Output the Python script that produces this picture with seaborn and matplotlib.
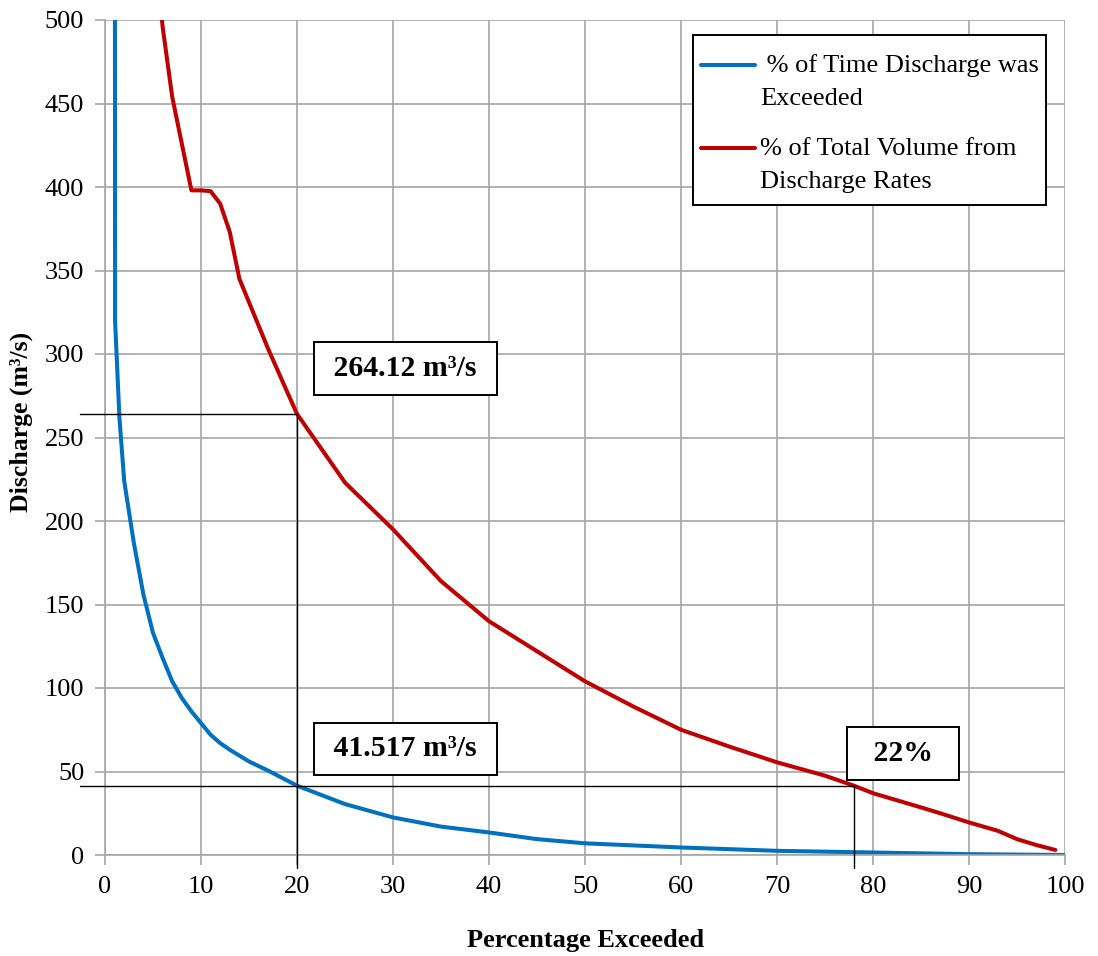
import matplotlib
matplotlib.use("Agg")
import matplotlib.pyplot as plt
import matplotlib.patches as mpatches
from matplotlib.legend_handler import HandlerLine2D
from matplotlib.lines import Line2D
import seaborn as sns
import pandas as pd

# ---- data ----
time_x = [1.0, 1.05, 1.5, 2, 3, 4, 5, 6, 7, 8, 9, 10, 11, 12, 13, 15, 17, 20,
          25, 30, 35, 40, 45, 50, 60, 70, 80, 88, 90, 100]
time_y = [1000, 320, 262, 224, 187, 156, 133, 118, 104, 94, 86, 79, 72, 67, 63,
          56, 50.5, 41.517, 30.5, 22.5, 17, 13.5, 9.5, 7, 4.5, 2.5, 1.5, 0.7, 0.5, 0]

vol_x = [5, 6, 7, 8, 9, 10, 11, 12, 13, 14, 15, 16, 17, 18, 19, 20, 25, 30, 35,
         40, 45, 50, 55, 60, 65, 70, 75, 78, 80, 85, 87, 90, 93, 94, 95, 97, 99]
vol_y = [560, 496, 454, 426, 398, 398, 397.5, 390, 373, 345, 331, 317, 303, 290,
         277, 264.12, 223, 195, 164, 140, 122, 104, 89, 75, 65, 55.5, 47.5, 41.517,
         37, 28.5, 25, 19.5, 14.5, 12, 9.5, 6, 3]

labels = [" % of Time Discharge was\nExceeded", "% of Total Volume from\nDischarge Rates"]
x_ticks = [0, 10, 20, 30, 40, 50, 60, 70, 80, 90, 100]
y_ticks = [0, 50, 100, 150, 200, 250, 300, 350, 400, 450, 500]
ann_q20 = 264.12
ann_q78 = 41.517
ann_p20 = 20
ann_p78 = 78

sns.set_style("white")
plt.rcParams['font.family'] = ['Liberation Serif', 'DejaVu Serif']
plt.rcParams['text.color'] = 'black'
plt.rcParams['axes.labelcolor'] = 'black'

fig = plt.figure(figsize=(10.98, 9.56), dpi=100)
ax = fig.add_axes([105/1098, 1 - 855/956, 960/1098, 835/956])

df1 = pd.DataFrame({"x": time_x, "y": time_y})
df2 = pd.DataFrame({"x": vol_x, "y": vol_y})
sns.lineplot(data=df1, x="x", y="y", ax=ax, color="#0070C0", lw=2.9,
             label=labels[0], sort=False, solid_capstyle="round")
sns.lineplot(data=df2, x="x", y="y", ax=ax, color="#C00000", lw=2.9,
             label=labels[1], sort=False, solid_capstyle="round")

ax.set_xlim(0, 100)
ax.set_ylim(0, 500)
ax.set_xticks(x_ticks)
ax.set_yticks(y_ticks)
ax.grid(True, color="#A6A6A6", lw=1.2)
ax.set_axisbelow(True)
for s in ["top", "right"]:
    ax.spines[s].set_visible(False)
for s in ["left", "bottom"]:
    ax.spines[s].set_color("#A6A6A6")
    ax.spines[s].set_linewidth(1.2)
ax.tick_params(axis="both", which="both", direction="out", length=7, width=1.2,
               color="#A6A6A6", labelsize=19, labelcolor="black", pad=8)
ax.tick_params(axis="x", bottom=True)
ax.tick_params(axis="y", left=True)

ax.set_xlabel("Percentage Exceeded", fontsize=19, fontweight="bold")
ax.set_ylabel("Discharge (m³/s)", fontsize=18.5, fontweight="bold")
ax.xaxis.set_label_coords(0.501, -0.089)
ax.yaxis.set_label_coords(-0.075, 0.519)

# reference lines
ax.plot([-2.6, ann_p20], [ann_q20, ann_q20], color="black", lw=1.0, clip_on=False, zorder=3)
ax.plot([ann_p20, ann_p20], [-7.5, ann_q20], color="black", lw=1.0, clip_on=False, zorder=3)
ax.plot([-2.6, ann_p78], [ann_q78, ann_q78], color="black", lw=1.0, clip_on=False, zorder=3)
ax.plot([ann_p78, ann_p78], [-7.5, ann_q78], color="black", lw=1.0, clip_on=False, zorder=3)

box = dict(boxstyle="square,pad=0.42", fc="white", ec="black", lw=1.4)
ax.text(31.3, 291.3, " 264.12 m³/s ", fontsize=21.5, fontweight="bold", ha="center",
        va="center", bbox=box, zorder=5)
ax.text(31.3, 63.5, " 41.517 m³/s ", fontsize=21.5, fontweight="bold", ha="center",
        va="center", bbox=box, zorder=5)
ax.text(83.1, 60.8, " \u200922%\u2009 ", fontsize=21.5, fontweight="bold", ha="center",
        va="center", bbox=box, zorder=5)


class TopLine(HandlerLine2D):
    def create_artists(self, legend, orig_handle, xdescent, ydescent, width,
                       height, fontsize, trans):
        arts = super().create_artists(legend, orig_handle, xdescent, ydescent,
                                      width, height, fontsize, trans)
        for a in arts:
            if isinstance(a, Line2D):
                a.set_ydata([y + 11.9 for y in a.get_ydata()])
        return arts


# legend frame
frame = mpatches.Rectangle((588/960, 650/835), 353/960, 170/835, transform=ax.transAxes,
                           fc="white", ec="black", lw=1.4, zorder=5, clip_on=False)
ax.add_patch(frame)

handles, labs = ax.get_legend_handles_labels()
leg = ax.legend(handles, labs, loc="upper left", bbox_to_anchor=(596/960, 801/835),
                fontsize=19, frameon=False, handlelength=2.05, handletextpad=0.2,
                labelspacing=1.05, borderpad=0, borderaxespad=0,
                handler_map={Line2D: TopLine()})
leg.set_zorder(6)
for t in leg.get_texts():
    t.set_linespacing(1.65)
    t.set_color("black")

fig.savefig("out.png", dpi=100)
